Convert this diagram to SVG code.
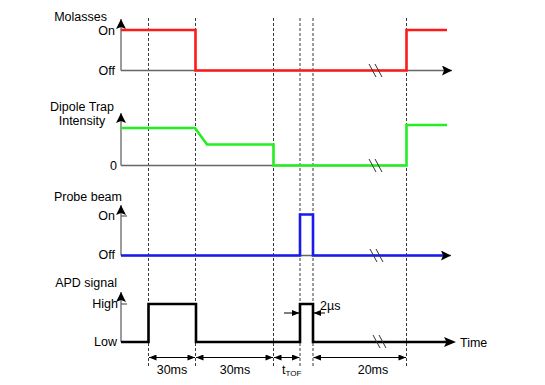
<svg xmlns="http://www.w3.org/2000/svg" width="545" height="385" viewBox="0 0 545 385">
<defs>
<marker id="ah" viewBox="0 0 10 10" refX="10" refY="5" markerWidth="10" markerHeight="10" markerUnits="userSpaceOnUse" orient="auto"><path d="M0,0 L10,5 L0,10 L2,5 z" fill="#000"/></marker>
<marker id="da" viewBox="0 0 10 8" refX="10" refY="4" markerWidth="8" markerHeight="6" markerUnits="userSpaceOnUse" orient="auto-start-reverse"><path d="M0,0 L10,4 L0,8 z" fill="#000"/></marker>
<style>
text{font-family:"Liberation Sans",Arial,sans-serif;font-size:12.5px;fill:#000}
.r{text-anchor:end}
.c{text-anchor:middle}
.ax{stroke:#666;stroke-width:1.3;fill:none}
.axa{stroke:#666;stroke-width:1.3;fill:none;marker-end:url(#ah)}
.dash{stroke:#222;stroke-width:0.9;stroke-dasharray:3,2;fill:none}
.sig{fill:none;stroke-width:2.6;stroke-linejoin:miter}
.brk{stroke:#333;stroke-width:1;fill:none}
.dim{stroke:#000;stroke-width:1;fill:none;marker-start:url(#da);marker-end:url(#da)}
.one{stroke:#000;stroke-width:1;fill:none;marker-end:url(#da)}
</style>
</defs>
<g id="guides">
<line class="dash" x1="148.5" y1="18" x2="148.5" y2="366"/>
<line class="dash" x1="195.5" y1="18" x2="195.5" y2="366"/>
<line class="dash" x1="273.5" y1="18" x2="273.5" y2="366"/>
<line class="dash" x1="300" y1="18" x2="300" y2="366"/>
<line class="dash" x1="313" y1="18" x2="313" y2="366"/>
<line class="dash" x1="406.5" y1="18" x2="406.5" y2="366"/>
</g>
<g id="molasses">
<text class="r" x="107" y="21">Molasses</text>
<text class="r" x="115" y="35">On</text>
<text class="r" x="115" y="75">Off</text>
<line class="axa" x1="121" y1="70.5" x2="121" y2="19"/>
<line class="axa" x1="121" y1="70.5" x2="452" y2="70.5"/>
<polyline class="sig" stroke="#ff1a1a" points="121,30 195.5,30 195.5,70.5 406.5,70.5 406.5,30 447,30"/>
<path class="brk" d="M369,64 L376,77 M375,64 L382,77"/>
</g>
<g id="dipole">
<text class="c" x="82" y="111">Dipole Trap</text>
<text class="c" x="82" y="125">Intensity</text>
<text class="r" x="117" y="170">0</text>
<line class="axa" x1="121" y1="165.5" x2="121" y2="113"/>
<line class="ax" x1="121" y1="165.5" x2="406" y2="165.5"/>
<polyline class="sig" stroke="#22ee22" points="121,128 195,128 207,144.5 273.5,144.5 273.5,165.5 406.5,165.5 406.5,125 447,125"/>
<path class="brk" d="M369,159 L376,172 M375,159 L382,172"/>
</g>
<g id="probe">
<text class="r" x="122" y="201">Probe beam</text>
<text class="r" x="115" y="220">On</text>
<text class="r" x="115" y="259">Off</text>
<line class="axa" x1="121" y1="255.5" x2="121" y2="205"/>
<line class="ax" x1="121" y1="216" x2="127" y2="216"/>
<line class="axa" x1="121" y1="255.5" x2="451" y2="255.5"/>
<polyline class="sig" stroke="#1a1aee" points="121,255.5 300,255.5 300,214.5 313,214.5 313,255.5 443,255.5"/>
<path class="brk" d="M370,249 L377,262 M376,249 L383,262"/>
</g>
<g id="apd">
<text class="r" x="117" y="287">APD signal</text>
<text class="r" x="118" y="308">High</text>
<text class="r" x="117" y="346">Low</text>
<line class="axa" x1="121" y1="342" x2="121" y2="292"/>
<line class="ax" x1="121" y1="304" x2="127" y2="304"/>
<polyline class="sig" stroke="#000" points="121,342 148.5,342 148.5,304 196,304 196,342 300,342 300,304 313,304 313,342 447,342"/>
<path d="M444,337 L456,342 L444,347 L446.5,342 z" fill="#000"/>
<path class="brk" d="M373,335 L380,348 M379,335 L386,348"/>
<text x="460" y="347">Time</text>
</g>
<g id="connectors">
<line class="dim" x1="149" y1="357.5" x2="195" y2="357.5"/>
<line class="dim" x1="196" y1="357.5" x2="273" y2="357.5"/>
<line class="dim" x1="274" y1="357.5" x2="299.5" y2="357.5"/>
<line class="dim" x1="313.5" y1="357.5" x2="406" y2="357.5"/>
<line class="one" x1="284" y1="313" x2="299.5" y2="313"/>
<line class="one" x1="325" y1="313" x2="313.5" y2="313"/>
</g>
<g id="labels">
<text class="c" x="172" y="374">30ms</text>
<text class="c" x="235" y="374">30ms</text>
<text x="282" y="374">t<tspan font-size="8" dy="2">TOF</tspan></text>
<text class="c" x="373" y="374">20ms</text>
<text x="320" y="310">2µs</text>
</g>
</svg>
